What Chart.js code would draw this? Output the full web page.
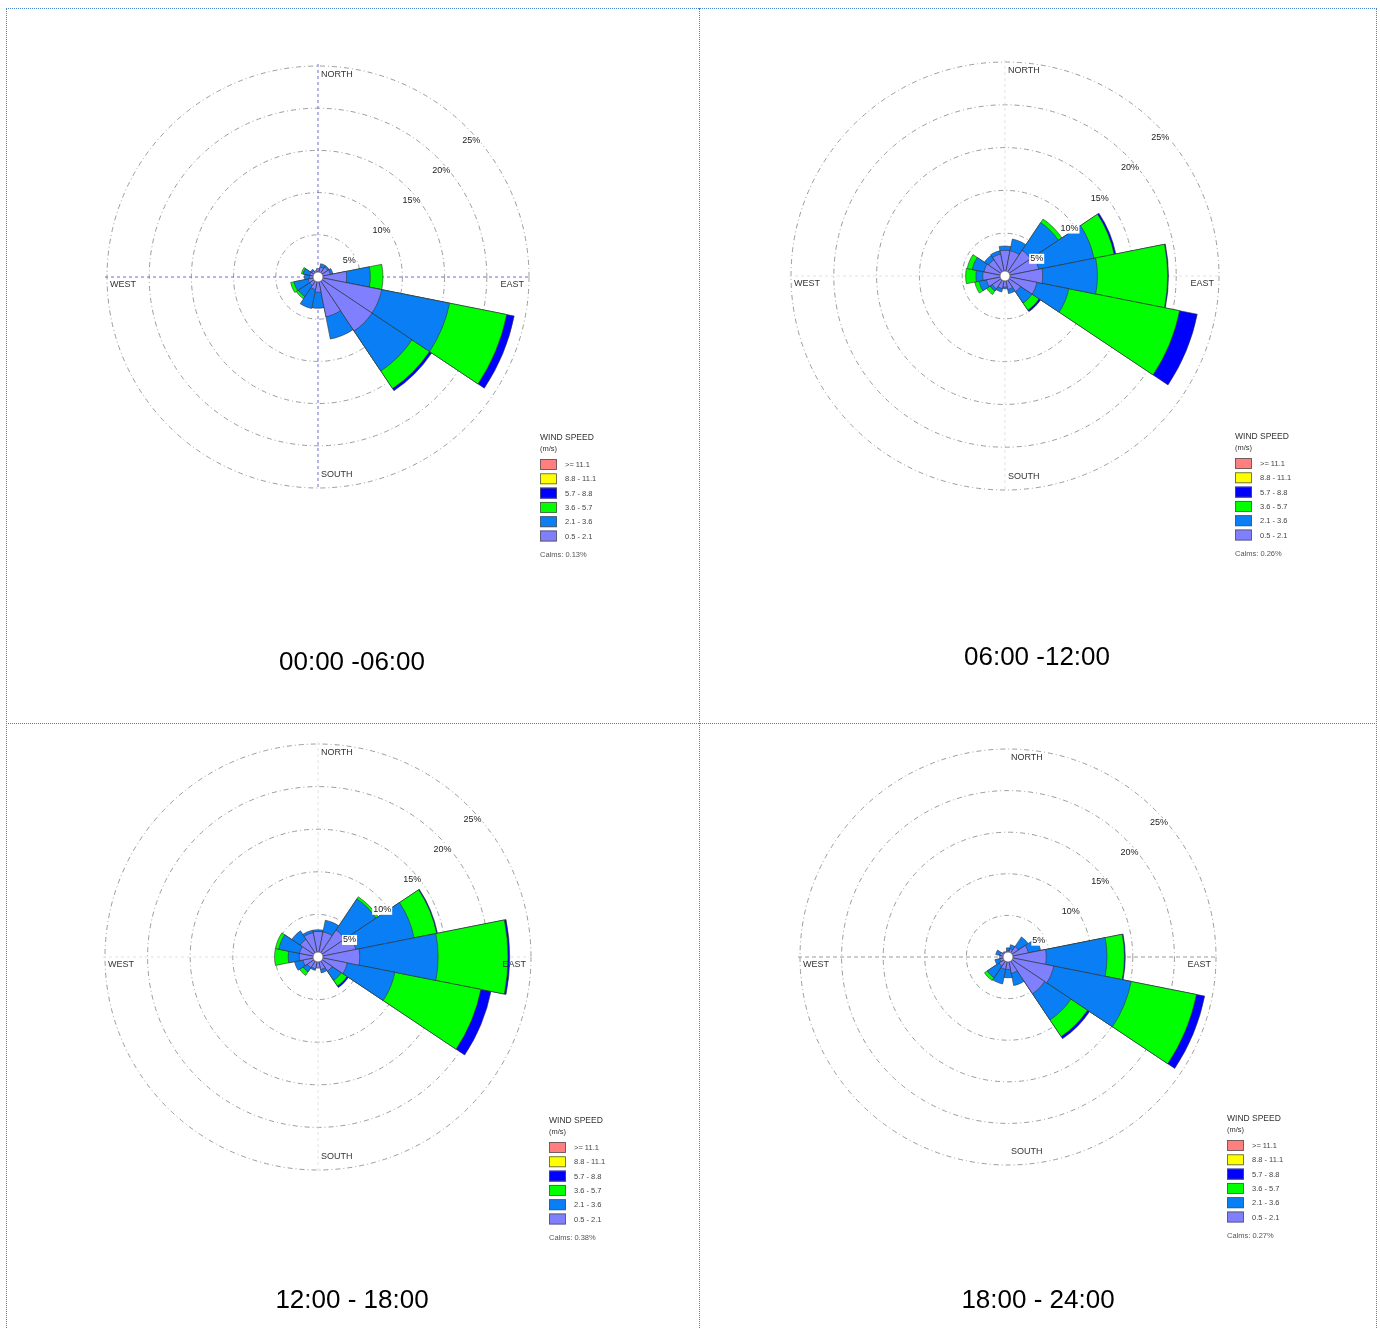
<!DOCTYPE html>
<html>
<head>
<meta charset="utf-8">
<script src="https://cdn.jsdelivr.net/npm/chart.js@4.4.1/dist/chart.umd.min.js"></script>
<style>
  html, body { margin: 0; padding: 0; background: #fff; }
  body { width: 1380px; height: 1328px; position: relative; overflow: hidden; font-family: "Liberation Sans", Arial, sans-serif; }
  .hl { position: absolute; height: 0; border-top: 1px dotted #4a7fd0; }
  .vl { position: absolute; width: 0; border-left: 1px dotted #4a7fd0; }
  canvas { position: absolute; }
  .cap { position: absolute; width: 400px; text-align: center; font-size: 26px; line-height: 30px; color: #000; }
</style>
</head>
<body>
<div class="hl" style="left:6px;top:8px;width:1371px"></div>
<div class="hl" style="left:6px;top:723px;width:1371px"></div>
<div class="vl" style="left:6px;top:8px;height:1330px"></div>
<div class="vl" style="left:699px;top:8px;height:1330px"></div>
<div class="vl" style="left:1376px;top:8px;height:1330px"></div>

<canvas id="rose1" width="690" height="712" style="left:7px;top:9px"></canvas>
<canvas id="rose2" width="675" height="712" style="left:700px;top:9px"></canvas>
<canvas id="rose3" width="690" height="603" style="left:7px;top:724px"></canvas>
<canvas id="rose4" width="675" height="603" style="left:700px;top:724px"></canvas>

<div class="cap" style="left:152px;top:646px">00:00 -06:00</div>
<div class="cap" style="left:837px;top:641px">06:00 -12:00</div>
<div class="cap" style="left:152px;top:1284px">12:00 - 18:00</div>
<div class="cap" style="left:838px;top:1284px">18:00 - 24:00</div>

<script>
  // wind directions, clockwise from north
  const directions = ['N', 'NNE', 'NE', 'ENE', 'E', 'ESE', 'SE', 'SSE', 'S', 'SSW', 'SW', 'WSW', 'W', 'WNW', 'NW', 'NNW'];

  // speed classes, slowest first (m/s)
  const binLabels = ['0.5 - 2.1', '2.1 - 3.6', '3.6 - 5.7', '5.7 - 8.8', '8.8 - 11.1', '>= 11.1'];
  const binColors = ['#8080ff', '#0a7ff5', '#00ff00', '#0000ff', '#ffff00', '#ff7f7f'];

  const ringValues = [5, 10, 15, 20, 25];
  const ringLabels = ['5%', '10%', '15%', '20%', '25%'];
  const calmsLabels = ['Calms: 0.13%', 'Calms: 0.26%', 'Calms: 0.38%', 'Calms: 0.27%'];

  // frequency in % — 00:00 - 06:00
  const p1_0521 = [1.0, 1.2, 1.4, 1.5, 3.4, 7.7, 7.7, 4.8, 1.8, 1.5, 1.2, 1.2, 1.0, 1.0, 0.9, 0.8];
  const p1_2136 = [0.0, 0.4, 0.2, 0.3, 2.8, 8.2, 5.7, 2.7, 1.9, 2.3, 1.6, 1.7, 0.6, 0.8, 0.2, 0.0];
  const p1_3657 = [0, 0, 0, 0, 1.5, 6.9, 2.5, 0, 0, 0, 0.3, 0.4, 0, 0.2, 0, 0];
  const p1_5788 = [0, 0, 0, 0, 0, 0.9, 0.3, 0, 0, 0, 0, 0, 0, 0, 0, 0];
  const p1_8811 = [0, 0, 0, 0, 0, 0, 0, 0, 0, 0, 0, 0, 0, 0, 0, 0];
  const p1_111 = [0, 0, 0, 0, 0, 0, 0, 0, 0, 0, 0, 0, 0, 0, 0, 0];

  // 06:00 - 12:00
  const p2_0521 = [3.0, 3.0, 3.6, 4.0, 4.4, 3.8, 2.2, 1.6, 1.3, 1.5, 1.8, 2.2, 2.6, 2.5, 2.3, 2.6];
  const p2_2136 = [0.5, 1.4, 3.9, 6.6, 6.4, 3.8, 1.6, 0.5, 0.2, 0.4, 0.3, 0.9, 0.8, 1.4, 0.6, 0.4];
  const p2_3657 = [0, 0, 0.5, 2.4, 8.2, 13.2, 1.0, 0, 0, 0, 0.5, 0.5, 1.2, 0.6, 0, 0];
  const p2_5788 = [0, 0, 0, 0.2, 0.1, 2.1, 0.2, 0, 0, 0, 0, 0, 0, 0, 0, 0];
  const p2_8811 = [0, 0, 0, 0, 0, 0, 0, 0, 0, 0, 0, 0, 0, 0, 0, 0];
  const p2_111 = [0, 0, 0, 0, 0, 0, 0, 0, 0, 0, 0, 0, 0, 0, 0, 0];

  // 12:00 - 18:00
  const p3_0521 = [3.0, 3.0, 3.8, 4.5, 4.9, 3.5, 2.0, 1.5, 1.3, 1.4, 1.5, 1.8, 2.2, 2.2, 2.5, 2.9];
  const p3_2136 = [0.2, 1.4, 4.4, 7.0, 9.2, 5.7, 1.3, 0.4, 0.0, 0.2, 0.6, 1.0, 1.3, 2.5, 1.2, 0.3];
  const p3_3657 = [0, 0, 0.3, 2.7, 8.2, 10.3, 0.8, 0, 0, 0, 0.5, 0, 1.6, 0.4, 0, 0];
  const p3_5788 = [0, 0, 0, 0.1, 0.2, 1.2, 0.2, 0, 0, 0, 0, 0, 0, 0, 0, 0];
  const p3_8811 = [0, 0, 0, 0, 0, 0, 0, 0, 0, 0, 0, 0, 0, 0, 0, 0];
  const p3_111 = [0, 0, 0, 0, 0, 0, 0, 0, 0, 0, 0, 0, 0, 0, 0, 0];

  // 18:00 - 24:00
  const p4_0521 = [0.8, 1.0, 1.5, 2.5, 4.6, 5.6, 5.3, 2.0, 1.5, 1.5, 1.3, 1.0, 1.0, 1.0, 0.8, 0.7];
  const p4_2136 = [0.3, 0.5, 1.4, 1.5, 7.3, 9.5, 3.8, 1.5, 1.0, 1.8, 1.7, 0.6, 0.0, 0.5, 0.0, 0.0];
  const p4_3657 = [0, 0, 0, 0, 2.1, 8.0, 2.4, 0, 0, 0, 0.4, 0, 0, 0, 0, 0];
  const p4_5788 = [0, 0, 0, 0, 0.1, 1.0, 0.3, 0, 0, 0, 0, 0, 0, 0, 0, 0];
  const p4_8811 = [0, 0, 0, 0, 0, 0, 0, 0, 0, 0, 0, 0, 0, 0, 0, 0];
  const p4_111 = [0, 0, 0, 0, 0, 0, 0, 0, 0, 0, 0, 0, 0, 0, 0, 0];

  const FONT = '"Liberation Sans", Arial, sans-serif';

  // placement of each rose inside its canvas (center, radius, legend offset, axis line style)
  const panels = [
    { id: 'rose1', bins: [p1_0521, p1_2136, p1_3657, p1_5788, p1_8811, p1_111], cx: 311, cy: 268, r: 211,
      legend: [222, 161], cross: { color: '#6c6cd6', dash: [3, 3], vertical: true } },
    { id: 'rose2', bins: [p2_0521, p2_2136, p2_3657, p2_5788, p2_8811, p2_111], cx: 305, cy: 267, r: 214,
      legend: [230, 161], cross: { color: '#e2e2e2', dash: [3, 3], vertical: true } },
    { id: 'rose3', bins: [p3_0521, p3_2136, p3_3657, p3_5788, p3_8811, p3_111], cx: 311, cy: 233, r: 213,
      legend: [231, 164], cross: { color: '#e2e2e2', dash: [3, 3], vertical: true } },
    { id: 'rose4', bins: [p4_0521, p4_2136, p4_3657, p4_5788, p4_8811, p4_111], cx: 308, cy: 233, r: 208,
      legend: [219, 162], cross: { color: '#9a9a9a', dash: [4, 3], vertical: false } }
  ];

  // stack the speed classes: each dataset reaches the running total, drawn slowest on top
  function stackedDatasets(bins) {
    return bins.map((bin, i) => ({
      data: directions.map((d, k) => {
        if (!bin[k]) return 0;
        let sum = 0;
        for (let j = 0; j <= i; j++) sum += bins[j][k];
        return sum;
      }),
      backgroundColor: binColors[i],
      borderColor: '#333',
      borderWidth: 0.6
    }));
  }

  function roseDecor(panel, idx) {
    return {
      id: 'roseDecor' + idx,
      beforeDatasetsDraw(chart) {
        const s = chart.scales.r;
        const ctx = chart.ctx;
        const R = s.drawingArea;
        ctx.save();
        ctx.strokeStyle = panel.cross.color;
        ctx.lineWidth = 1;
        ctx.setLineDash(panel.cross.dash);
        ctx.beginPath();
        ctx.moveTo(s.xCenter - R - 2, s.yCenter);
        ctx.lineTo(s.xCenter + R + 2, s.yCenter);
        if (panel.cross.vertical) {
          ctx.moveTo(s.xCenter, s.yCenter - R - 2);
          ctx.lineTo(s.xCenter, s.yCenter + R + 2);
        }
        ctx.stroke();
        ctx.restore();
      },
      afterDatasetsDraw(chart) {
        const s = chart.scales.r;
        const ctx = chart.ctx;
        const cx = s.xCenter, cy = s.yCenter, R = s.drawingArea;
        ctx.save();

        // calm hole
        ctx.beginPath();
        ctx.arc(cx, cy, 5, 0, Math.PI * 2);
        ctx.fillStyle = '#fff';
        ctx.fill();
        ctx.strokeStyle = '#666';
        ctx.lineWidth = 0.8;
        ctx.stroke();

        // ring labels along the north-east diagonal
        ctx.font = '9px ' + FONT;
        ctx.textBaseline = 'middle';
        ctx.textAlign = 'left';
        ringValues.forEach((v, i) => {
          const d = s.getDistanceFromCenterForValue(v) - 10;
          const x = cx + d * Math.SQRT1_2 + 2;
          const y = cy - d * Math.SQRT1_2 + 6;
          const w = ctx.measureText(ringLabels[i]).width;
          ctx.fillStyle = '#fff';
          ctx.fillRect(x - 1, y - 5, w + 2, 10);
          ctx.fillStyle = '#222';
          ctx.fillText(ringLabels[i], x, y);
        });

        // compass words
        ctx.fillStyle = '#333';
        ctx.fillText('NORTH', cx + 3, cy - R + 9);
        ctx.fillText('SOUTH', cx + 3, cy + R - 13);
        ctx.fillText('WEST', cx - R + 3, cy + 8);
        ctx.textAlign = 'right';
        ctx.fillText('EAST', cx + R - 5, cy + 8);

        // speed legend
        const lx = cx + panel.legend[0];
        const ly = cy + panel.legend[1];
        ctx.textAlign = 'left';
        ctx.fillStyle = '#333';
        ctx.font = '8.5px ' + FONT;
        ctx.fillText('WIND SPEED', lx, ly);
        ctx.font = '7.5px ' + FONT;
        ctx.fillText('(m/s)', lx, ly + 11);
        for (let i = binLabels.length - 1, row = 0; i >= 0; i--, row++) {
          const by = ly + 21 + row * 14.3;
          ctx.fillStyle = binColors[i];
          ctx.fillRect(lx, by, 17, 11);
          ctx.strokeStyle = '#555';
          ctx.lineWidth = 0.8;
          ctx.strokeRect(lx + 0.5, by + 0.5, 16, 10);
          ctx.fillStyle = '#444';
          ctx.fillText(binLabels[i], lx + 25, by + 6);
        }
        ctx.fillStyle = '#555';
        ctx.fillText(calmsLabels[idx], lx, ly + 117);
        ctx.restore();
      }
    };
  }

  panels.forEach((panel, idx) => {
    const canvas = document.getElementById(panel.id);
    const W = canvas.width, H = canvas.height;
    new Chart(canvas, {
      type: 'polarArea',
      data: {
        labels: directions,
        datasets: stackedDatasets(panel.bins)
      },
      options: {
        responsive: false,
        animation: false,
        layout: {
          padding: {
            left: panel.cx - panel.r,
            right: W - panel.cx - panel.r,
            top: panel.cy - panel.r,
            bottom: H - panel.cy - panel.r
          }
        },
        plugins: {
          legend: { display: false },
          tooltip: { enabled: false }
        },
        scales: {
          r: {
            min: 0,
            max: 25,
            startAngle: -11.25,
            ticks: { display: false, stepSize: 5 },
            grid: { circular: true, color: '#9c9c9c', lineWidth: 1 },
            border: { dash: [5, 3, 1, 3] },
            angleLines: { display: false },
            pointLabels: { display: false }
          }
        }
      },
      plugins: [roseDecor(panel, idx)]
    });
  });
</script>
</body>
</html>
